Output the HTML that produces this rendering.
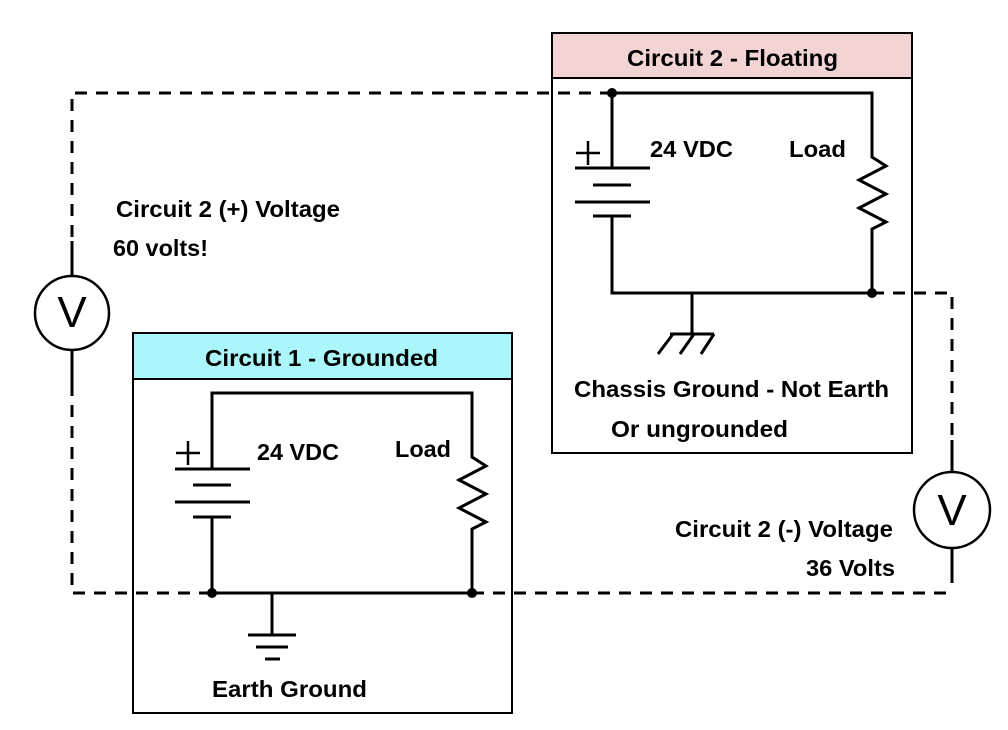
<!DOCTYPE html>
<html><head><meta charset="utf-8"><style>
html,body{margin:0;padding:0;background:#fff;}
svg{display:block;}
text{font-family:"Liberation Sans",Arial,sans-serif;font-weight:bold;font-size:23.5px;fill:#000;}
</style></head><body>
<svg width="1008" height="730" viewBox="0 0 1008 730" xmlns="http://www.w3.org/2000/svg">
<rect x="552" y="33" width="360" height="420" fill="#fff" stroke="#000" stroke-width="2"/>
<rect x="553" y="34" width="358" height="44" fill="#f2d4d4"/>
<line x1="552" y1="78" x2="912" y2="78" stroke="#000" stroke-width="2"/>
<text x="627" y="66" textLength="211" lengthAdjust="spacingAndGlyphs">Circuit 2 - Floating</text>
<rect x="133" y="333" width="379" height="380" fill="#fff" stroke="#000" stroke-width="2"/>
<rect x="134" y="334" width="377" height="45" fill="#aaf6fa"/>
<line x1="133" y1="379" x2="512" y2="379" stroke="#000" stroke-width="2"/>
<text x="205" y="366" textLength="233" lengthAdjust="spacingAndGlyphs">Circuit 1 - Grounded</text>

<g stroke="#000" stroke-width="3" fill="none">
<g stroke-dasharray="12,9">
<polyline points="612,93 72,93 72,241"/>
<polyline points="72,384 72,593 212,593"/>
<polyline points="472,593 948,593"/>
<polyline points="872,293 952,293 952,472"/>
</g>
<line x1="72" y1="241" x2="72" y2="276"/>
<line x1="72" y1="350" x2="72" y2="384"/>
<circle cx="72" cy="313" r="37" stroke-width="2.5"/>
<line x1="952" y1="440" x2="952" y2="472"/>
<line x1="952" y1="548" x2="952" y2="583"/>
<circle cx="952" cy="510" r="38" stroke-width="2.5"/>

<polyline points="612,168 612,93 872,93 872,157 886,166 859,180 886,194 859,208 886,222 872,229 872,293 612,293 612,216"/>
<line x1="575" y1="168" x2="650" y2="168"/>
<line x1="593" y1="185" x2="631" y2="185"/>
<line x1="575" y1="202" x2="650" y2="202"/>
<line x1="593" y1="216" x2="631" y2="216"/>
<line x1="692" y1="293" x2="692" y2="334"/>
<line x1="670" y1="334" x2="714" y2="334"/>
<line x1="673" y1="334" x2="658" y2="354"/>
<line x1="694" y1="334" x2="680" y2="354"/>
<line x1="714" y1="334" x2="701" y2="354"/>
<line x1="576" y1="153" x2="600" y2="153" stroke-width="2.5"/>
<line x1="588" y1="141" x2="588" y2="165" stroke-width="2.5"/>

<polyline points="212,468 212,393 472,393 472,457 486,466 459,480 486,494 459,508 486,522 472,529 472,593 212,593 212,517"/>
<line x1="175" y1="469" x2="250" y2="469"/>
<line x1="193" y1="485" x2="231" y2="485"/>
<line x1="175" y1="502" x2="250" y2="502"/>
<line x1="193" y1="517" x2="231" y2="517"/>
<line x1="272" y1="593" x2="272" y2="635"/>
<line x1="248" y1="635" x2="296" y2="635"/>
<line x1="256" y1="647" x2="288" y2="647"/>
<line x1="265" y1="659" x2="280" y2="659"/>
<line x1="176" y1="453" x2="200" y2="453" stroke-width="2.5"/>
<line x1="188" y1="441" x2="188" y2="465" stroke-width="2.5"/>
</g>
<circle cx="612" cy="93" r="5"/>
<circle cx="872" cy="293" r="5"/>
<circle cx="212" cy="593" r="5"/>
<circle cx="472" cy="593" r="5"/>

<text x="72" y="327" text-anchor="middle" style="font-weight:normal;font-size:44px">V</text>
<text x="952" y="525" text-anchor="middle" style="font-weight:normal;font-size:44px">V</text>

<text x="650" y="157" textLength="83" lengthAdjust="spacingAndGlyphs">24 VDC</text>
<text x="789" y="157" textLength="57" lengthAdjust="spacingAndGlyphs">Load</text>
<text x="574" y="397" textLength="315" lengthAdjust="spacingAndGlyphs">Chassis Ground - Not Earth</text>
<text x="611" y="437" textLength="177" lengthAdjust="spacingAndGlyphs">Or ungrounded</text>
<text x="257" y="460" textLength="82" lengthAdjust="spacingAndGlyphs">24 VDC</text>
<text x="395" y="457" textLength="56" lengthAdjust="spacingAndGlyphs">Load</text>
<text x="212" y="697" textLength="155" lengthAdjust="spacingAndGlyphs">Earth Ground</text>
<text x="116" y="217" textLength="224" lengthAdjust="spacingAndGlyphs">Circuit 2 (+) Voltage</text>
<text x="113" y="256" textLength="95" lengthAdjust="spacingAndGlyphs">60 volts!</text>
<text x="675" y="537" textLength="218" lengthAdjust="spacingAndGlyphs">Circuit 2 (-) Voltage</text>
<text x="806" y="576" textLength="89" lengthAdjust="spacingAndGlyphs">36 Volts</text>
</svg>
</body></html>
